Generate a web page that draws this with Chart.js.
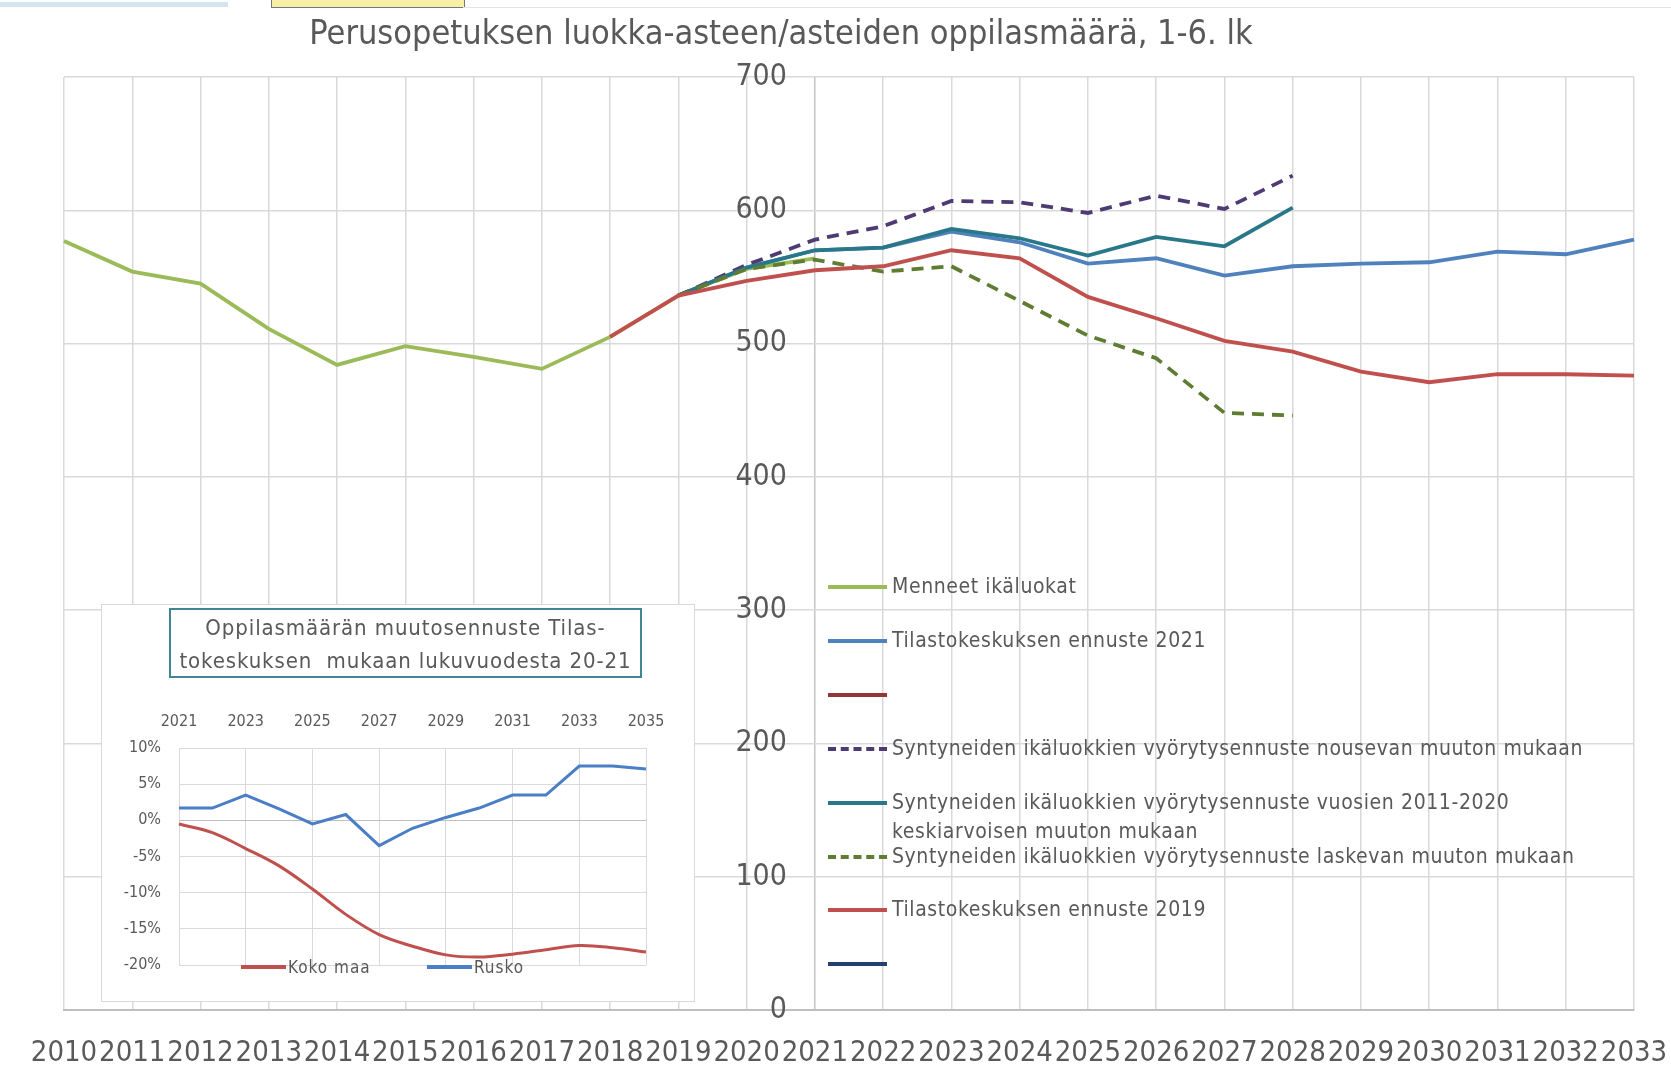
<!DOCTYPE html>
<html>
<head>
<meta charset="utf-8">
<script src="https://cdn.jsdelivr.net/npm/chart.js@4.4.1/dist/chart.umd.min.js"></script>
<style>
  body { margin: 0; background: #fff; font-family: "DejaVu Sans Condensed", "DejaVu Sans", sans-serif; color: #595959; }
  #wrap { position: relative; width: 1671px; height: 1066px; overflow: hidden; }
  #main { position: absolute; left: 0; top: 0; }
  #title { position: absolute; left: 0; width: 1562px; top: 12px; text-align: center; font-size: 34px; line-height: 40px; }
  #legend { position: absolute; left: 828px; top: 0; }
  .item { position: absolute; left: 0; width: 770px; }
  .item .line { position: absolute; left: 0; width: 59px; top: 0; height: 0; }
  .item .txt { position: absolute; left: 64px; width: 700px; font-size: 21px; letter-spacing: 0.6px; line-height: 29px; top: -15px; }
  #inset { position: absolute; left: 101px; top: 604px; width: 594px; height: 398px; background: #fff; border: 1px solid #d9d9d9; box-sizing: border-box; }
  #insetChart { position: absolute; left: 0; top: 0; }
  #insetTitle { position: absolute; left: 67px; top: 3px; width: 473px; height: 70px; border: 2px solid #3f8596; text-align: center; font-size: 22px; letter-spacing: 0.9px; line-height: 33px; padding-top: 1px; box-sizing: border-box; white-space: nowrap; }
  #insetLegend { position: absolute; left: 0; top: 351px; font-size: 17px; letter-spacing: 1px; }
  .top1 { position: absolute; left: 0; top: 2px; width: 228px; height: 5px; background: #d6e3f1; }
  .top2 { position: absolute; left: 271px; top: 0; width: 192px; height: 7px; background: #f7efa6; border: 1px solid #777; border-top: none; }
  .top3 { position: absolute; left: 463px; top: 7px; width: 1208px; height: 1px; background: #e3e3e3; }
</style>
</head>
<body>
<div id="wrap">
  <div class="top1"></div><div class="top2"></div><div class="top3"></div>
  <canvas id="main" width="1671" height="1066"></canvas>
  <div id="title">Perusopetuksen luokka-asteen/asteiden oppilasmäärä, 1-6. lk</div>
  <div id="legend"></div>
  <div id="inset">
    <canvas id="insetChart" width="592" height="396"></canvas>
    <div id="insetTitle">Oppilasmäärän muutosennuste Tilas-<br>tokeskuksen&nbsp; mukaan lukuvuodesta 20-21</div>
    <div id="insetLegend"></div>
  </div>
</div>
<script>
// main chart data
const years = ["2010", "2011", "2012", "2013", "2014", "2015", "2016", "2017", "2018", "2019", "2020", "2021",
  "2022", "2023", "2024", "2025", "2026", "2027", "2028", "2029", "2030", "2031", "2032", "2033"];
const yTicks = [0, 100, 200, 300, 400, 500, 600, 700];

const menneet = [577, 554, 545, 511, 484, 498, 490, 481, 505, 536, 556, 564,
  null, null, null, null, null, null, null, null, null, null, null, null];
const ennuste2021 = [null, null, null, null, null, null, null, null, null, 536, 557, 570,
  572, 584, 576, 560, 564, 551, 558, 560, 561, 569, 567, 578];
const tyhja1 = [null, null, null, null, null, null, null, null, null, null, null, null,
  null, null, null, null, null, null, null, null, null, null, null, null];
const nousevan = [null, null, null, null, null, null, null, null, null, 536, 559, 578,
  588, 607, 606, 598, 611, 601, 626, null, null, null, null, null];
const keskiarvo = [null, null, null, null, null, null, null, null, null, 536, 557, 570,
  572, 586, 579, 566, 580, 573, 602, null, null, null, null, null];
const laskevan = [null, null, null, null, null, null, null, null, null, 536, 556, 563,
  554, 558, 532, 506, 489, 448, 446, null, null, null, null, null];
const ennuste2019 = [null, null, null, null, null, null, null, null, 505, 536, 547, 555,
  558, 570, 564, 535, 519, 502, 494, 479, 471, 477, 477, 476];
const tyhja2 = [null, null, null, null, null, null, null, null, null, null, null, null,
  null, null, null, null, null, null, null, null, null, null, null, null];

// inset chart data
const insetYears = ["2021", "2022", "2023", "2024", "2025", "2026", "2027", "2028",
  "2029", "2030", "2031", "2032", "2033", "2034", "2035"];
const kokoMaa = [-0.5, -1.7, -3.9, -6.3, -9.5, -13.0, -15.8, -17.4, -18.6, -18.9, -18.5, -17.9, -17.3, -17.6, -18.2];
const rusko = [1.7, 1.7, 3.5, 1.6, -0.5, 0.8, -3.5, -1.1, 0.4, 1.7, 3.5, 3.5, 7.5, 7.5, 7.1];

const font = "'DejaVu Sans Condensed', 'DejaVu Sans', sans-serif";
const grey = "#595959";

const series = [
  { label: "Menneet ikäluokat", data: menneet, color: "#9bbb59", dash: [] },
  { label: "Tilastokeskuksen ennuste 2021", data: ennuste2021, color: "#4f81bd", dash: [] },
  { label: "", data: tyhja1, color: "#943634", dash: [] },
  { label: "Syntyneiden ikäluokkien vyörytysennuste nousevan muuton mukaan", data: nousevan, color: "#4e3b73", dash: [12, 8] },
  { label: "Syntyneiden ikäluokkien vyörytysennuste vuosien 2011-2020 keskiarvoisen muuton mukaan", data: keskiarvo, color: "#28788a", dash: [] },
  { label: "Syntyneiden ikäluokkien vyörytysennuste laskevan muuton mukaan", data: laskevan, color: "#5e7d32", dash: [12, 8] },
  { label: "Tilastokeskuksen ennuste 2019", data: ennuste2019, color: "#c0504d", dash: [] },
  { label: "", data: tyhja2, color: "#24406e", dash: [] },
];

new Chart(document.getElementById("main"), {
  type: "line",
  data: {
    labels: years,
    datasets: series.map((s, i) => ({
      label: s.label,
      data: s.data,
      borderColor: s.color,
      backgroundColor: s.color,
      borderWidth: 3.8,
      borderDash: s.dash,
      pointRadius: 0,
      tension: 0,
      order: series.length - i,
    })),
  },
  options: {
    responsive: false,
    animation: false,
    layout: { padding: { left: 64, right: 37, top: 77, bottom: 0 } },
    plugins: { legend: { display: false }, tooltip: { enabled: false }, title: { display: false } },
    scales: {
      x: {
        offset: false,
        afterFit: (axis) => {
          axis.height = 56;
          axis.paddingLeft = 0;
          axis.paddingRight = 0;
        },
        grid: {
          color: (ctx) => (ctx.index === 11 ? "#c4c4c4" : "#d9d9d9"),
          lineWidth: 1.5,
          drawTicks: false,
        },
        border: { color: "#bfbfbf", width: 2 },
        ticks: { autoSkip: false, maxRotation: 0, padding: 26, color: grey, font: { family: font, size: 29 } },
      },
      y: {
        position: { x: 10.59 },
        min: 0,
        max: 700,
        afterBuildTicks: (axis) => { axis.ticks = yTicks.map((v) => ({ value: v })); },
        afterFit: (axis) => {
          axis.paddingTop = 0;
          axis.paddingBottom = 0;
        },
        grid: { color: "#d9d9d9", lineWidth: 1.5, drawTicks: false },
        border: { display: false },
        ticks: { padding: 0, color: grey, font: { family: font, size: 30 } },
      },
    },
  },
});

// main legend
const legend = document.getElementById("legend");
series.forEach((s, i) => {
  const item = document.createElement("div");
  item.className = "item";
  item.style.top = (587 + 53.9 * i) + "px";
  const line = document.createElement("div");
  line.className = "line";
  line.style.borderTop = "4px " + (s.dash.length ? "dashed " : "solid ") + s.color;
  line.style.marginTop = "-2px";
  const txt = document.createElement("div");
  txt.className = "txt";
  txt.textContent = s.label;
  item.appendChild(line);
  item.appendChild(txt);
  legend.appendChild(item);
});

// inset chart
const insetSeries = [
  { label: "Koko maa", data: kokoMaa, color: "#c0504d", tension: 0.35 },
  { label: "Rusko", data: rusko, color: "#4a7ec7", tension: 0 },
];

new Chart(document.getElementById("insetChart"), {
  type: "line",
  data: {
    labels: insetYears,
    datasets: insetSeries.map((s) => ({
      label: s.label,
      data: s.data,
      borderColor: s.color,
      borderWidth: 3,
      pointRadius: 0,
      tension: s.tension,
    })),
  },
  options: {
    responsive: false,
    animation: false,
    layout: { padding: { left: 0, right: 48, top: 0, bottom: 36 } },
    plugins: { legend: { display: false }, tooltip: { enabled: false } },
    scales: {
      x: {
        position: "top",
        offset: false,
        afterFit: (axis) => {
          axis.height = 143;
          axis.paddingLeft = 0;
          axis.paddingRight = 0;
        },
        grid: { color: (ctx) => (ctx.index % 2 === 0 ? "#d9d9d9" : "rgba(0,0,0,0)"), drawTicks: false },
        border: { display: false },
        ticks: {
          autoSkip: false,
          maxRotation: 0,
          padding: 17,
          color: grey,
          font: { family: font, size: 16 },
          callback: (v, i) => (i % 2 === 0 ? insetYears[i] : ""),
        },
      },
      y: {
        min: -20,
        max: 10,
        afterFit: (axis) => {
          axis.width = 77;
          axis.paddingTop = 0;
          axis.paddingBottom = 0;
        },
        grid: { color: (ctx) => (ctx.tick && ctx.tick.value === 0 ? "#bfbfbf" : "#d9d9d9"), drawTicks: false },
        border: { display: false },
        ticks: { stepSize: 5, padding: 18, color: grey, font: { family: font, size: 16 }, callback: (v) => v + "%" },
      },
    },
  },
});

// inset legend
const insetLegend = document.getElementById("insetLegend");
const insetLegendX = [139, 325];
insetSeries.forEach((s, i) => {
  const item = document.createElement("div");
  item.style.position = "absolute";
  item.style.left = insetLegendX[i] + "px";
  item.style.whiteSpace = "nowrap";
  item.innerHTML = '<span style="display:inline-block;width:45px;height:0;border-top:4px solid ' + s.color +
    ';vertical-align:middle;margin-right:2px"></span>';
  const t = document.createElement("span");
  t.textContent = s.label;
  t.style.verticalAlign = "middle";
  item.appendChild(t);
  insetLegend.appendChild(item);
});
</script>
</body>
</html>
